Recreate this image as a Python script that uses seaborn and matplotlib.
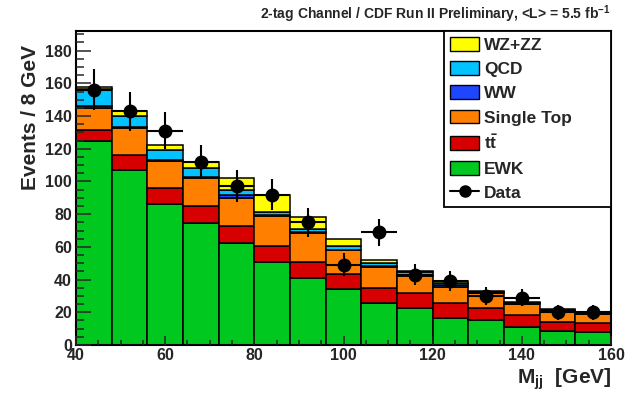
import numpy as np
import pandas as pd
import matplotlib
matplotlib.use("Agg")
import matplotlib.pyplot as plt
import seaborn as sns
from matplotlib.patches import Patch
from matplotlib.lines import Line2D
from matplotlib.ticker import MultipleLocator

# ---------------- data ----------------
bin_edges = [40, 48, 56, 64, 72, 80, 88, 96, 104, 112, 120, 128, 136, 144, 152, 160]
bin_centers = [44, 52, 60, 68, 76, 84, 92, 100, 108, 116, 124, 132, 140, 148, 156]

ewk        = [125.0, 107.0, 86.5, 74.4, 62.6, 51.0, 41.0, 34.0, 25.5, 22.8, 16.7, 15.3, 11.0, 8.7, 8.1]
ttbar      = [6.5, 9.0, 9.5, 10.4, 10.1, 9.6, 10.0, 9.6, 9.5, 9.2, 8.8, 7.5, 7.2, 5.4, 5.2]
single_top = [13.5, 16.5, 16.7, 17.2, 17.3, 18.4, 17.7, 14.2, 13.0, 10.4, 10.0, 8.7, 6.6, 6.7, 5.5]
ww         = [1.0, 0.5, 0.3, 0.5, 2.0, 0.4, 0.2, 0.4, 0.5, 0.6, 1.0, 0.5, 0.4, 0.3, 0.4]
qcd        = [10.5, 7.0, 6.0, 5.5, 3.0, 2.0, 1.8, 2.4, 1.5, 1.5, 1.5, 0.5, 0.6, 0.4, 0.6]
wz_zz      = [1.5, 3.0, 3.4, 4.0, 7.0, 10.6, 7.3, 4.4, 2.0, 0.7, 1.0, 0.5, 0.4, 0.3, 0.4]
data_counts = [156, 143, 131, 112, 97, 92, 75, 49, 69, 43, 39, 30, 29, 20, 20]

process_names = ["WZ+ZZ", "QCD", "WW", "Single Top", "ttbar", "EWK"]
legend_labels = ["WZ+ZZ", "QCD", "WW", "Single Top", r"t$\bar{\mathrm{t}}$", "EWK"]
colors = ["#ffff00", "#00c3ff", "#1e46ff", "#ff8000", "#d70000", "#00c81e"]
series = [wz_zz, qcd, ww, single_top, ttbar, ewk]

rows = []
for name, vals in zip(process_names, series):
    for c, v in zip(bin_centers, vals):
        rows.append({"mass": c, "events": v, "process": name})
df = pd.DataFrame(rows)

# ---------------- style ----------------
sns.set_style("white")
plt.rcParams["font.family"] = ["Liberation Sans", "DejaVu Sans"]
plt.rcParams["font.weight"] = "bold"
plt.rcParams["mathtext.fontset"] = "custom"
plt.rcParams["mathtext.rm"] = "Liberation Sans:bold"
plt.rcParams["mathtext.it"] = "Liberation Sans:bold"
plt.rcParams["mathtext.bf"] = "Liberation Sans:bold"
plt.rcParams["mathtext.default"] = "rm"

fig = plt.figure(figsize=(6.27, 3.96), dpi=100)
ax = fig.add_axes([76 / 627, 1 - 345 / 396, 535 / 627, 314 / 396])

sns.histplot(
    data=df, x="mass", weights="events", hue="process",
    hue_order=process_names, palette=dict(zip(process_names, colors)),
    multiple="stack", bins=bin_edges, element="bars", fill=True,
    alpha=1, edgecolor="black", linewidth=1.1, shrink=1,
    legend=False, ax=ax,
)

half_width = np.diff(bin_edges) / 2
ax.errorbar(bin_centers, data_counts, yerr=np.sqrt(data_counts), xerr=half_width,
            fmt="o", color="black", markersize=9, elinewidth=1.5, capsize=0, zorder=6)

ax.set_xlim(40, 160)
ax.set_ylim(0, 192)
ax.xaxis.set_major_locator(MultipleLocator(20))
ax.xaxis.set_minor_locator(MultipleLocator(5))
ax.yaxis.set_major_locator(MultipleLocator(20))
ax.yaxis.set_minor_locator(MultipleLocator(5))
ax.tick_params(axis="y", which="major", direction="in", length=10.5, width=1.1,
               labelsize=11.5, pad=3, left=True, right=False)
ax.tick_params(axis="y", which="minor", direction="in", length=5.5, width=1.1,
               left=True, right=False)
ax.tick_params(axis="x", which="major", direction="in", length=6.5, width=1.1,
               labelsize=11.5, pad=2, bottom=True, top=False)
ax.tick_params(axis="x", which="minor", direction="in", length=3.5, width=1.1,
               bottom=True, top=False)
for lab in ax.get_xticklabels() + ax.get_yticklabels():
    lab.set_fontweight("bold")
for s in ax.spines.values():
    s.set_linewidth(1.5)
    s.set_color("black")
ax.set_axisbelow(False)

ax.set_xlabel(r"M$_{\mathrm{jj}}$  [GeV]", fontsize=15, fontweight="bold", loc="right")
ax.xaxis.set_label_coords(1.0, -0.07)
ax.set_ylabel("Events / 8 GeV", fontsize=15, fontweight="bold", loc="top")
ax.yaxis.set_label_coords(-0.067, 0.955)

fig.text(611 / 627, 1 - 14 / 396,
         r"2-tag Channel / CDF Run II Preliminary, <L> = 5.5 fb$^{-1}$",
         ha="right", va="center", fontsize=10, fontweight="bold")

handles = [Patch(facecolor=c, edgecolor="black", linewidth=1.0) for c in colors]
handles.append(Line2D([0], [0], color="black", marker="o", markersize=8, lw=1.5))
labels = legend_labels + ["Data"]
leg = ax.legend(handles, labels, loc="upper left", bbox_to_anchor=(0.688, 0, 0.312, 1),
                mode="expand", borderaxespad=0, fancybox=False, framealpha=1,
                edgecolor="black", handlelength=1.67, handleheight=0.86,
                handletextpad=0.3, labelspacing=0.47, borderpad=0.35,
                prop={"weight": "bold", "size": 12.5})
leg.get_frame().set_linewidth(1.3)
leg.set_zorder(10)

fig.savefig("out.png", dpi=100)
